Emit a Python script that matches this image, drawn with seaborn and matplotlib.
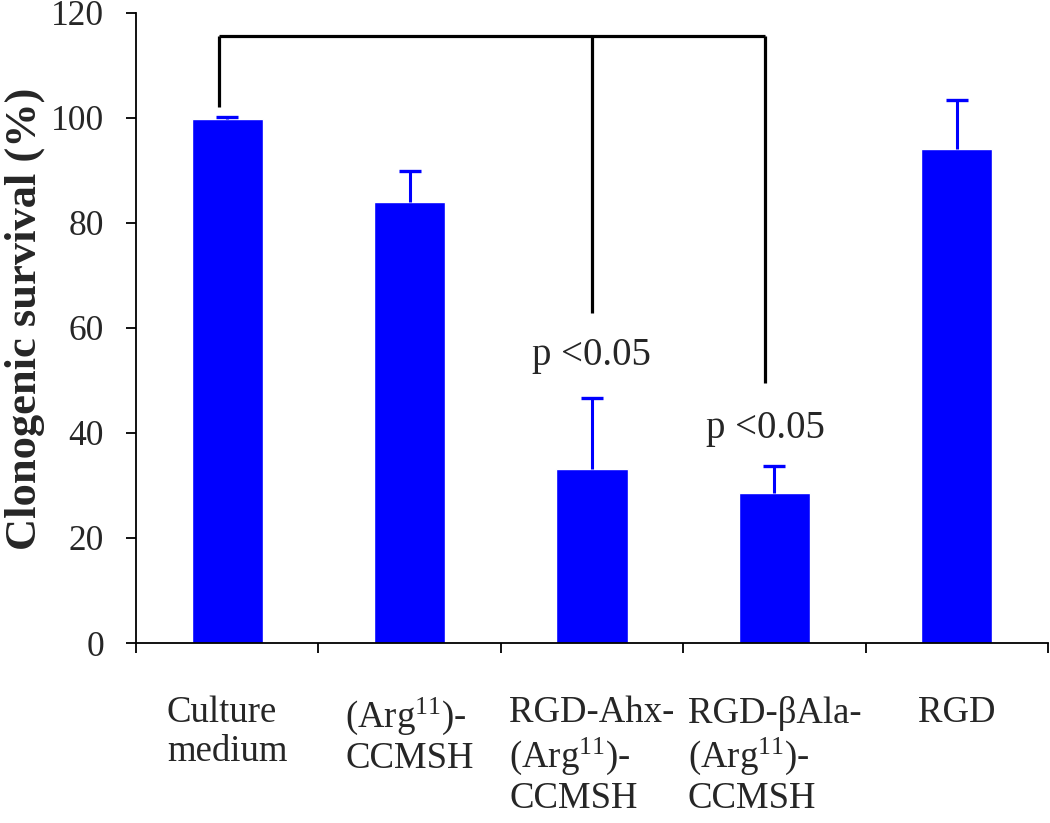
import matplotlib
matplotlib.use("Agg")
import matplotlib.pyplot as plt
import seaborn as sns
import numpy as np

categories = ["Culture\nmedium",
              "(Arg$\\mathregular{^{11}}$)-\nCCMSH",
              "RGD-Ahx-\n(Arg$\\mathregular{^{11}}$)-\nCCMSH",
              "RGD-βAla-\n(Arg$\\mathregular{^{11}}$)-\nCCMSH",
              "RGD"]
survival = [99.8, 83.9, 33.1, 28.6, 94.0]
error_up = [0.3, 5.9, 13.6, 5.1, 9.4]
y_ticks = [0, 20, 40, 60, 80, 100, 120]
annotations = ["p <0.05", "p <0.05"]
annot_x = [2.0, 2.95]
annot_y = [54.8, 40.9]
bracket_y = 115.6
bracket_x = [-0.045, 2.0, 2.95]
bracket_bottoms = [102.0, 62.8, 49.5]

sns.set_theme(style="white")
plt.rcParams["font.family"] = ["Liberation Serif", "DejaVu Serif"]
plt.rcParams["mathtext.fontset"] = "custom"
plt.rcParams["mathtext.rm"] = "Liberation Serif"

fig = plt.figure(figsize=(10.5, 8.23), dpi=100)
ax = fig.add_axes([0.1295, 0.2187, 0.8685, 0.7659])

sns.barplot(x=list(range(len(survival))), y=survival, color="#0000ff",
            saturation=1, width=0.39, ax=ax, errorbar=None)
eb = ax.errorbar(range(len(survival)), survival,
                 yerr=[np.zeros(len(error_up)), error_up],
                 fmt="none", ecolor="#0000ff", elinewidth=2.2, capsize=8, capthick=2.4)
# hide the lower caps (they sit on the bar tops)
if len(eb[1]) == 2:
    eb[1][0].set_visible(False)

# bracket
ax.plot([bracket_x[0], bracket_x[-1]], [bracket_y, bracket_y], color="black", lw=2.3,
        solid_capstyle="butt")
for bx, bb in zip(bracket_x, bracket_bottoms):
    ax.plot([bx, bx], [bracket_y, bb], color="black", lw=2.3, solid_capstyle="butt")

for t, x, y in zip(annotations, annot_x, annot_y):
    ax.text(x, y, t, ha="center", va="center", fontsize=28)

ax.set_xlim(-0.5, len(survival) - 0.5)
ax.set_ylim(0, 120)
ax.set_yticks(y_ticks)
ax.set_yticklabels([str(v) for v in y_ticks], fontsize=25.5)
ax.tick_params(axis="y", direction="out", length=7, width=1.3, pad=16, left=True,
               color="black")

ax.set_xticks(range(len(categories)))
ax.set_xticklabels(categories, fontsize=26.5, linespacing=1.17,
                   multialignment="left")
ax.tick_params(axis="x", which="major", length=0, pad=38)
ax.set_xticks(np.arange(-0.5, len(categories)), minor=True)
ax.tick_params(axis="x", which="minor", direction="out", length=7, width=1.3,
               bottom=True, color="black")

ax.set_ylabel("Clonogenic survival (%)", fontsize=32, fontweight="bold")
ax.yaxis.set_label_coords(-0.100, 0.515)
ax.set_xlabel("")

for s in ["top", "right"]:
    ax.spines[s].set_visible(False)
for s in ["left", "bottom"]:
    ax.spines[s].set_color("black")
    ax.spines[s].set_linewidth(1.3)

fig.savefig("out.png", dpi=100)
